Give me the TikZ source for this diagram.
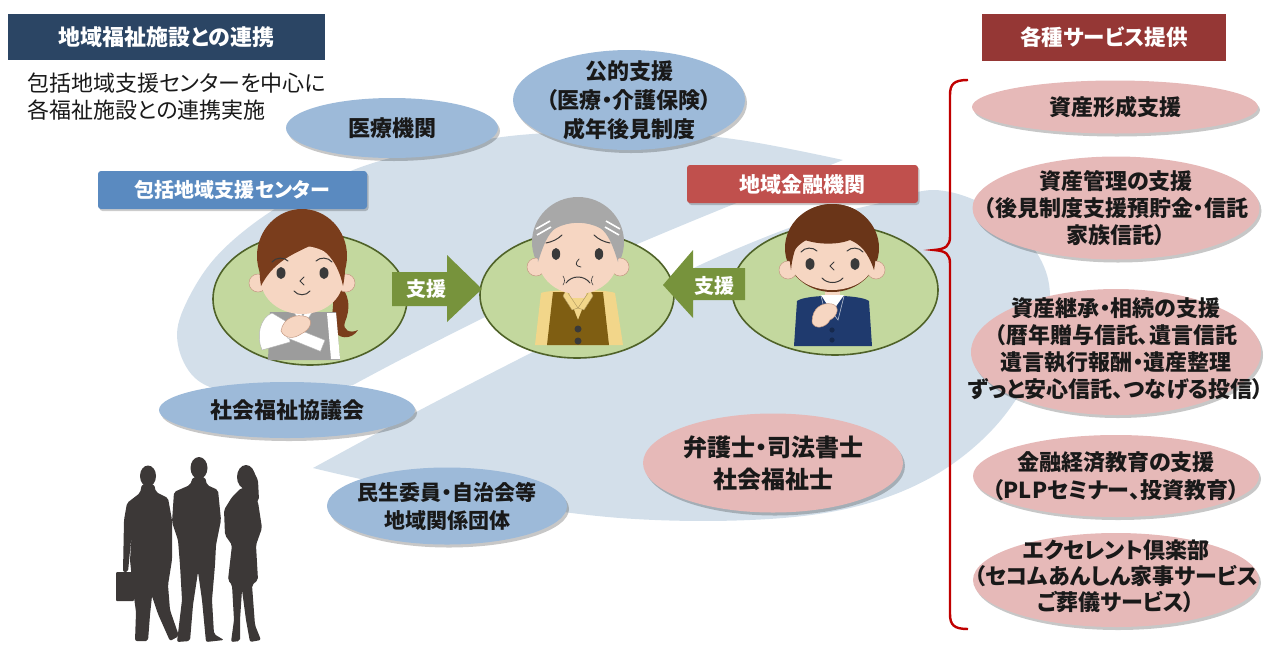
\documentclass[tikz,border=0pt]{standalone}
\usepackage{fontspec}
\setmainfont{Noto Sans CJK JP}[RawFeature=+palt]
\usetikzlibrary{shapes.geometric,shadows}

\definecolor{hdrnavy}{HTML}{2B4564}
\definecolor{ctrblue}{HTML}{5A8AC0}
\definecolor{orgblue}{HTML}{9DBAD9}
\definecolor{swirl}{HTML}{D3DFEA}
\definecolor{meadow}{HTML}{C3D89E}
\definecolor{meadowedge}{HTML}{4F6228}
\definecolor{olivearrow}{HTML}{77933C}
\definecolor{bankred}{HTML}{C0504D}
\definecolor{svcred}{HTML}{953735}
\definecolor{blush}{HTML}{E6B9B8}
\definecolor{bracered}{HTML}{C00000}
\definecolor{silhouette}{HTML}{3C3837}
\definecolor{skin}{HTML}{F6D6C2}
\definecolor{skinline}{HTML}{C49A84}
\definecolor{hairbrown}{HTML}{7A3D1C}
\definecolor{hairdark}{HTML}{6A3518}
\definecolor{hairgray}{HTML}{A8A8A8}
\definecolor{vestgray}{HTML}{9C9C9C}
\definecolor{vestbrown}{HTML}{7F5E12}
\definecolor{shirtyellow}{HTML}{F2D68A}
\definecolor{suitnavy}{HTML}{1F3A6E}
\definecolor{inkdark}{HTML}{3A3A3A}

\newcommand\fsz[2]{\fontsize{#1}{#2}\selectfont}

\tikzset{
  bubble/.style={ellipse, inner sep=0pt,
    drop shadow={shadow xshift=2pt, shadow yshift=-3pt, opacity=0.22, fill=black}},
  org/.style={bubble, fill=orgblue},
  svc/.style={bubble, fill=blush},
  caption/.style={align=center, inner sep=0pt, text=black!90, font=\fsz{22}{27}\bfseries},
  person/.style={ellipse, inner sep=0pt, fill=meadow, draw=meadowedge, line width=1.6pt},
  banner/.style={rectangle, inner sep=0pt, text=white, font=\fsz{20}{24}\bfseries},
  face line/.style={draw=inkdark, line width=1pt, line cap=round},
  skinpatch/.style={fill=skin, draw=skinline, line width=0.5pt},
  figure/.style={fill=silhouette},
}

\begin{document}
\begin{tikzpicture}[x=1pt,y=-1pt]
\useasboundingbox (0,0) rectangle (1274,646);

% ---------- background swirl ----------
\fill[swirl] plot[smooth, tension=0.6] coordinates {(843,160) (740,140) (640,131) (520,135) (430,150) (383,160) (337,177) (270,212) (215,258) (183,310) (178,345) (195,378) (230,392) (290,393) (353,385)}
  -- plot[smooth, tension=0.5] coordinates {(353,385) (400,360) (483,318) (590,265) (690,222) (843,160)} -- cycle;
\fill[swirl] plot[smooth, tension=0.5] coordinates {(313,468) (420,410) (517,360) (600,318) (700,265) (800,224) (880,203)}
  -- plot[smooth, tension=0.6] coordinates {(880,203) (935,190) (990,208) (1035,250) (1050,300) (1032,370) (992,430) (930,478) (850,508) (750,520) (620,518) (480,500) (380,483) (313,468)} -- cycle;

% ---------- left column: title and intro ----------
\node[banner, fill=hdrnavy, minimum width=317pt, minimum height=46pt, font=\fsz{22}{26}\bfseries] (hdr) at (166.5,37) {地域福祉施設との連携};
\node[anchor=west, align=left, inner sep=0pt, text=black!90, font=\fsz{22}{27}] (intro) at (27,96.5) {包括地域支援センターを中心に\\各福祉施設との連携実施};

% ---------- community organisations ----------
\node[org, minimum width=212pt, minimum height=60pt] (med) at (392,128) {};
\node[caption] (medt) at (med.center) {医療機関};
\node[org, minimum width=232pt, minimum height=100pt] (pub) at (629,100) {};
\node[caption, font=\fsz{22}{29}\bfseries] (pubt) at (pub.center) {公的支援\\（医療・介護保険）\\成年後見制度};
\node[org, minimum width=256pt, minimum height=56pt] (swc) at (287,410) {};
\node[caption] (swct) at (swc.center) {社会福祉協議会};
\node[org, minimum width=240pt, minimum height=77pt] (local) at (447,506) {};
\node[caption, font=\fsz{21}{28}\bfseries] (localt) at (local.center) {民生委員・自治会等\\地域関係団体};
\node[svc, minimum width=260pt, minimum height=99pt] (law) at (773,463) {};
\node[caption, font=\fsz{24}{32}\bfseries] (lawt) at (law.center) {弁護士・司法書士\\社会福祉士};

% ---------- the three people ----------
\node[person, minimum width=194pt, minimum height=132pt] (staff) at (310,299) {};
\node[person, minimum width=194pt, minimum height=126pt] (elder) at (577,295) {};
\node[person, minimum width=206pt, minimum height=130pt] (banker) at (835,290) {};

\node[banner, fill=ctrblue, rounded corners=3pt, minimum width=269pt, minimum height=38pt,
  drop shadow={shadow xshift=1.5pt, shadow yshift=-2pt, opacity=0.2, fill=black}] (ctr) at (232.5,190) {包括地域支援センター};
\node[banner, fill=bankred, rounded corners=3pt, minimum width=231pt, minimum height=38pt, font=\fsz{21}{25}\bfseries,
  drop shadow={shadow xshift=1.5pt, shadow yshift=-2pt, opacity=0.2, fill=black}] (bank) at (802.5,184) {地域金融機関};

% support arrows
\fill[olivearrow] (392,272) -- (447,272) -- (447,255) -- (482,289) -- (447,322) -- (447,306) -- (392,306) -- cycle;
\node[banner] (supL) at (426,289) {支援};
\fill[olivearrow] (745,268) -- (693,268) -- (693,250) -- (663,285) -- (693,318) -- (693,300) -- (745,300) -- cycle;
\node[banner] (supR) at (714,286) {支援};

% staff member (left)
\begin{scope}
  \fill[hairbrown] (334,282) .. controls (352,292) and (350,310) .. (345,322) .. controls (342,330) and (350,334) .. (358,330) .. controls (352,340) and (337,340) .. (333,328) .. controls (329,315) and (338,300) .. (329,290) -- cycle;
  \fill[vestgray] (270,312) -- (336,312) -- (340,360) -- (268,360) -- cycle;
  \fill[white] (327,313) -- (336,313) -- (340,359) -- (331,359) -- cycle;
  \fill[skin] (295,300) rectangle (311,313);
  \fill[white, draw=gray!60, line width=0.4pt] (291,308) -- (303,326) -- (315,308) -- (309,306) -- (303,316) -- (297,306) -- cycle;
  \fill[white, draw=gray!60, line width=0.4pt] (272,313) .. controls (260,318) and (256,336) .. (262,350) -- (290,342) -- (287,322) -- cycle;
  \fill[white, draw=gray!60, line width=0.4pt, rotate around={-22:(306,339)}] (288,333) rectangle (324,345);
  \fill[skinpatch] (281,331) .. controls (283,318) and (296,313) .. (307,317) .. controls (314,321) and (310,330) .. (301,334) .. controls (294,339) and (285,339) .. (281,331) -- cycle;
  \fill[hairbrown] (302,256) ellipse [x radius=45, y radius=47];
  \filldraw[skinpatch] (258,283) circle [radius=9];
  \filldraw[skinpatch] (346,283) circle [radius=9];
  \fill[skin] (302,280) ellipse [x radius=41, y radius=34];
  \fill[hairbrown] (261,286) .. controls (252,232) and (288,212) .. (305,213) .. controls (332,214) and (352,242) .. (343,286) .. controls (338,262) and (326,250) .. (313,244) .. controls (300,252) and (275,258) .. (261,286) -- cycle;
  \fill[inkdark] (281,273) ellipse [x radius=4.5, y radius=6];
  \fill[inkdark] (324,273) ellipse [x radius=4.5, y radius=6];
  \draw[face line] (272,262) .. controls (276,257) and (284,257) .. (288,261);
  \draw[face line] (316,261) .. controls (320,257) and (328,257) .. (332,262);
  \draw[face line, line width=0.8pt] (304,277) -- (300,281) -- (304,285);
  \draw[face line] (294,291) .. controls (298,296) and (306,296) .. (310,291);
\end{scope}

% elderly man (centre)
\begin{scope}
  \fill[shirtyellow] (541,293) .. controls (550,289) and (606,289) .. (615,293) -- (623,345) -- (535,345) -- cycle;
  \fill[vestbrown] (553,292) -- (567,292) -- (578,320) -- (589,292) -- (603,292) -- (609,345) -- (547,345) -- cycle;
  \fill[skin] (570,284) rectangle (586,298);
  \fill[shirtyellow, draw=vestbrown!70, line width=0.4pt] (566,290) -- (578,308) -- (572,310) -- (563,296) -- cycle;
  \fill[shirtyellow, draw=vestbrown!70, line width=0.4pt] (590,290) -- (578,308) -- (584,310) -- (593,296) -- cycle;
  \fill[inkdark] (578,329) circle [radius=3.5];
  \fill[inkdark] (578,341) circle [radius=3.5];
  \fill[hairgray] (578,242) ellipse [x radius=46, y radius=45];
  \filldraw[skinpatch] (536,267) circle [radius=9];
  \filldraw[skinpatch] (620,267) circle [radius=9];
  \fill[skin] (578,258) ellipse [x radius=40, y radius=36];
  \fill[hairgray] (538,262) .. controls (530,204) and (626,204) .. (618,262) .. controls (613,246) and (608,233) .. (600,228) .. controls (586,221) and (570,221) .. (556,228) .. controls (548,233) and (543,246) .. (538,262) -- cycle;
  \draw[white, line width=1.6pt] (536,229) -- (550,221);
  \draw[white, line width=1.6pt] (537,235) -- (551,227);
  \draw[white, line width=1.6pt] (620,229) -- (606,221);
  \draw[white, line width=1.6pt] (619,235) -- (605,227);
  \fill[inkdark] (556,254) ellipse [x radius=4.2, y radius=6];
  \fill[inkdark] (599,254) ellipse [x radius=4.2, y radius=6];
  \draw[face line] (546,243) .. controls (552,242) and (558,239) .. (562,235);
  \draw[face line] (594,235) .. controls (598,239) and (604,242) .. (610,243);
  \draw[face line, line width=0.8pt] (579,259) .. controls (575,263) and (575,266) .. (581,267);
  \draw[face line] (566,283) .. controls (572,275) and (584,275) .. (590,283);
  \draw[face line, line width=0.6pt] (563,276) .. controls (565,279) and (565,282) .. (563,285);
  \draw[face line, line width=0.6pt] (593,276) .. controls (591,279) and (591,282) .. (593,285);
\end{scope}

% bank adviser (right)
\begin{scope}
  \fill[suitnavy] (797,301) .. controls (806,294) and (860,294) .. (869,301) -- (872,346) -- (794,346) -- cycle;
  \fill[skin] (825,284) rectangle (840,298);
  \fill[white] (821,295) -- (832,312) -- (844,295) -- cycle;
  \draw[white!70!suitnavy, line width=0.6pt] (821,296) -- (827,320) -- (832,312);
  \draw[white!70!suitnavy, line width=0.6pt] (844,296) -- (838,320) -- (832,312);
  \fill[suitnavy!70!black] (832,330) circle [radius=2.6];
  \fill[suitnavy!70!black] (832,340) circle [radius=2.6];
  \fill[skinpatch] (812,322) .. controls (812,308) and (822,302) .. (832,304) .. controls (840,306) and (838,316) .. (830,320) .. controls (826,328) and (814,330) .. (812,322) -- cycle;
  \fill[hairdark] (832,248) ellipse [x radius=47, y radius=44];
  \filldraw[skinpatch] (788,270) circle [radius=9];
  \filldraw[skinpatch] (876,270) circle [radius=9];
  \fill[skin] (832,262) ellipse [x radius=41, y radius=28];
  \fill[hairdark] (791,270) .. controls (782,215) and (815,204) .. (832,204) .. controls (852,204) and (884,215) .. (874,270) .. controls (868,252) and (860,244) .. (850,240) .. controls (835,246) and (812,244) .. (800,238) .. controls (795,248) and (792,258) .. (791,270) -- cycle;
  \fill[inkdark] (810,264) ellipse [x radius=4.5, y radius=6];
  \fill[inkdark] (855,264) ellipse [x radius=4.5, y radius=6];
  \draw[face line] (801,252) .. controls (805,247) and (813,247) .. (817,251);
  \draw[face line] (847,251) .. controls (851,247) and (859,247) .. (863,252);
  \draw[face line, line width=0.8pt] (834,262) -- (830,266) -- (834,270);
  \draw[face line] (822,278) .. controls (827,284) and (838,284) .. (843,278);
\end{scope}

% ---------- silhouettes of local people ----------
\fill[figure] (148,476) ellipse [x radius=8, y radius=10.5];
\fill[figure, rounded corners=2pt] (142,484) -- (154,484) -- (156,492) -- (168,498) -- (172,520) -- (172,560) -- (168,585) -- (170,610) -- (179,636) -- (170,641) -- (158,614) -- (152,596) -- (150,615) -- (148,641) -- (135,641) -- (136,612) -- (133,590) -- (130,560) -- (132,530) -- (128,572) -- (123,572) -- (124,520) -- (127,503) -- (140,493) -- cycle;
\fill[figure, rounded corners=1pt] (116,572) rectangle (134,601);
\fill[figure] (199,468) ellipse [x radius=8.5, y radius=11];
\fill[figure, rounded corners=2pt] (193,477) -- (205,477) -- (207,485) -- (218,490) -- (221,520) -- (216,545) -- (215,565) -- (212,600) -- (214,634) -- (224,640) -- (206,642) -- (202,600) -- (198,572) -- (193,605) -- (190,641) -- (177,642) -- (182,600) -- (180,565) -- (178,540) -- (172,522) -- (174,492) -- (190,485) -- cycle;
\fill[figure] (246,477) ellipse [x radius=9, y radius=12];
\fill[figure, rounded corners=2pt] (238,470) -- (252,468) -- (258,480) -- (259,500) -- (252,506) -- cycle;
\fill[figure, rounded corners=2pt] (241,488) -- (250,488) -- (258,502) -- (262,528) -- (256,545) -- (258,580) -- (252,585) -- (255,625) -- (261,640) -- (250,642) -- (246,620) -- (242,590) -- (240,620) -- (240,641) -- (231,642) -- (234,620) -- (232,585) -- (228,580) -- (232,545) -- (225,535) -- (224,510) -- (232,497) -- cycle;

% ---------- right column: services ----------
\node[banner, fill=svcred, minimum width=244pt, minimum height=47pt, font=\fsz{21.5}{25}\bfseries] (svchdr) at (1104,37.5) {各種サービス提供};

\draw[bracered, line width=2.4pt] (968,80) .. controls (954,80) and (950,84) .. (950,95) -- (950,236) .. controls (950,246) and (946,249) .. (934,250) .. controls (946,251) and (950,254) .. (950,264) -- (950,614) .. controls (950,625) and (954,629) .. (968,629);

\node[svc, minimum width=286pt, minimum height=53pt] (s1) at (1115,107) {};
\node[caption] (s1t) at (s1.center) {資産形成支援};
\node[svc, minimum width=287pt, minimum height=103pt] (s2) at (1116,208) {};
\node[caption] (s2t) at (s2.center) {資産管理の支援\\（後見制度支援預貯金・信託\\家族信託）};
\node[svc, minimum width=290pt, minimum height=126pt] (s3) at (1116,352) {};
\node[caption] (s3t) at (1116,349) {資産継承・相続の支援\\（暦年贈与信託、遺言信託\\遺言執行報酬・遺産整理\\ずっと安心信託、つなげる投信）};
\node[svc, minimum width=286pt, minimum height=82pt] (s4) at (1116,476) {};
\node[caption, font=\fsz{22}{28}\bfseries] (s4t) at (s4.center) {金融経済教育の支援\\（PLPセミナー、投資教育）};
\node[svc, minimum width=286pt, minimum height=94pt] (s5) at (1116,580) {};
\node[caption, font=\fsz{22}{26}\bfseries] (s5t) at (1116,576) {エクセレント倶楽部\\（セコムあんしん家事サービス\\ご葬儀サービス）};

\end{tikzpicture}
\end{document}
